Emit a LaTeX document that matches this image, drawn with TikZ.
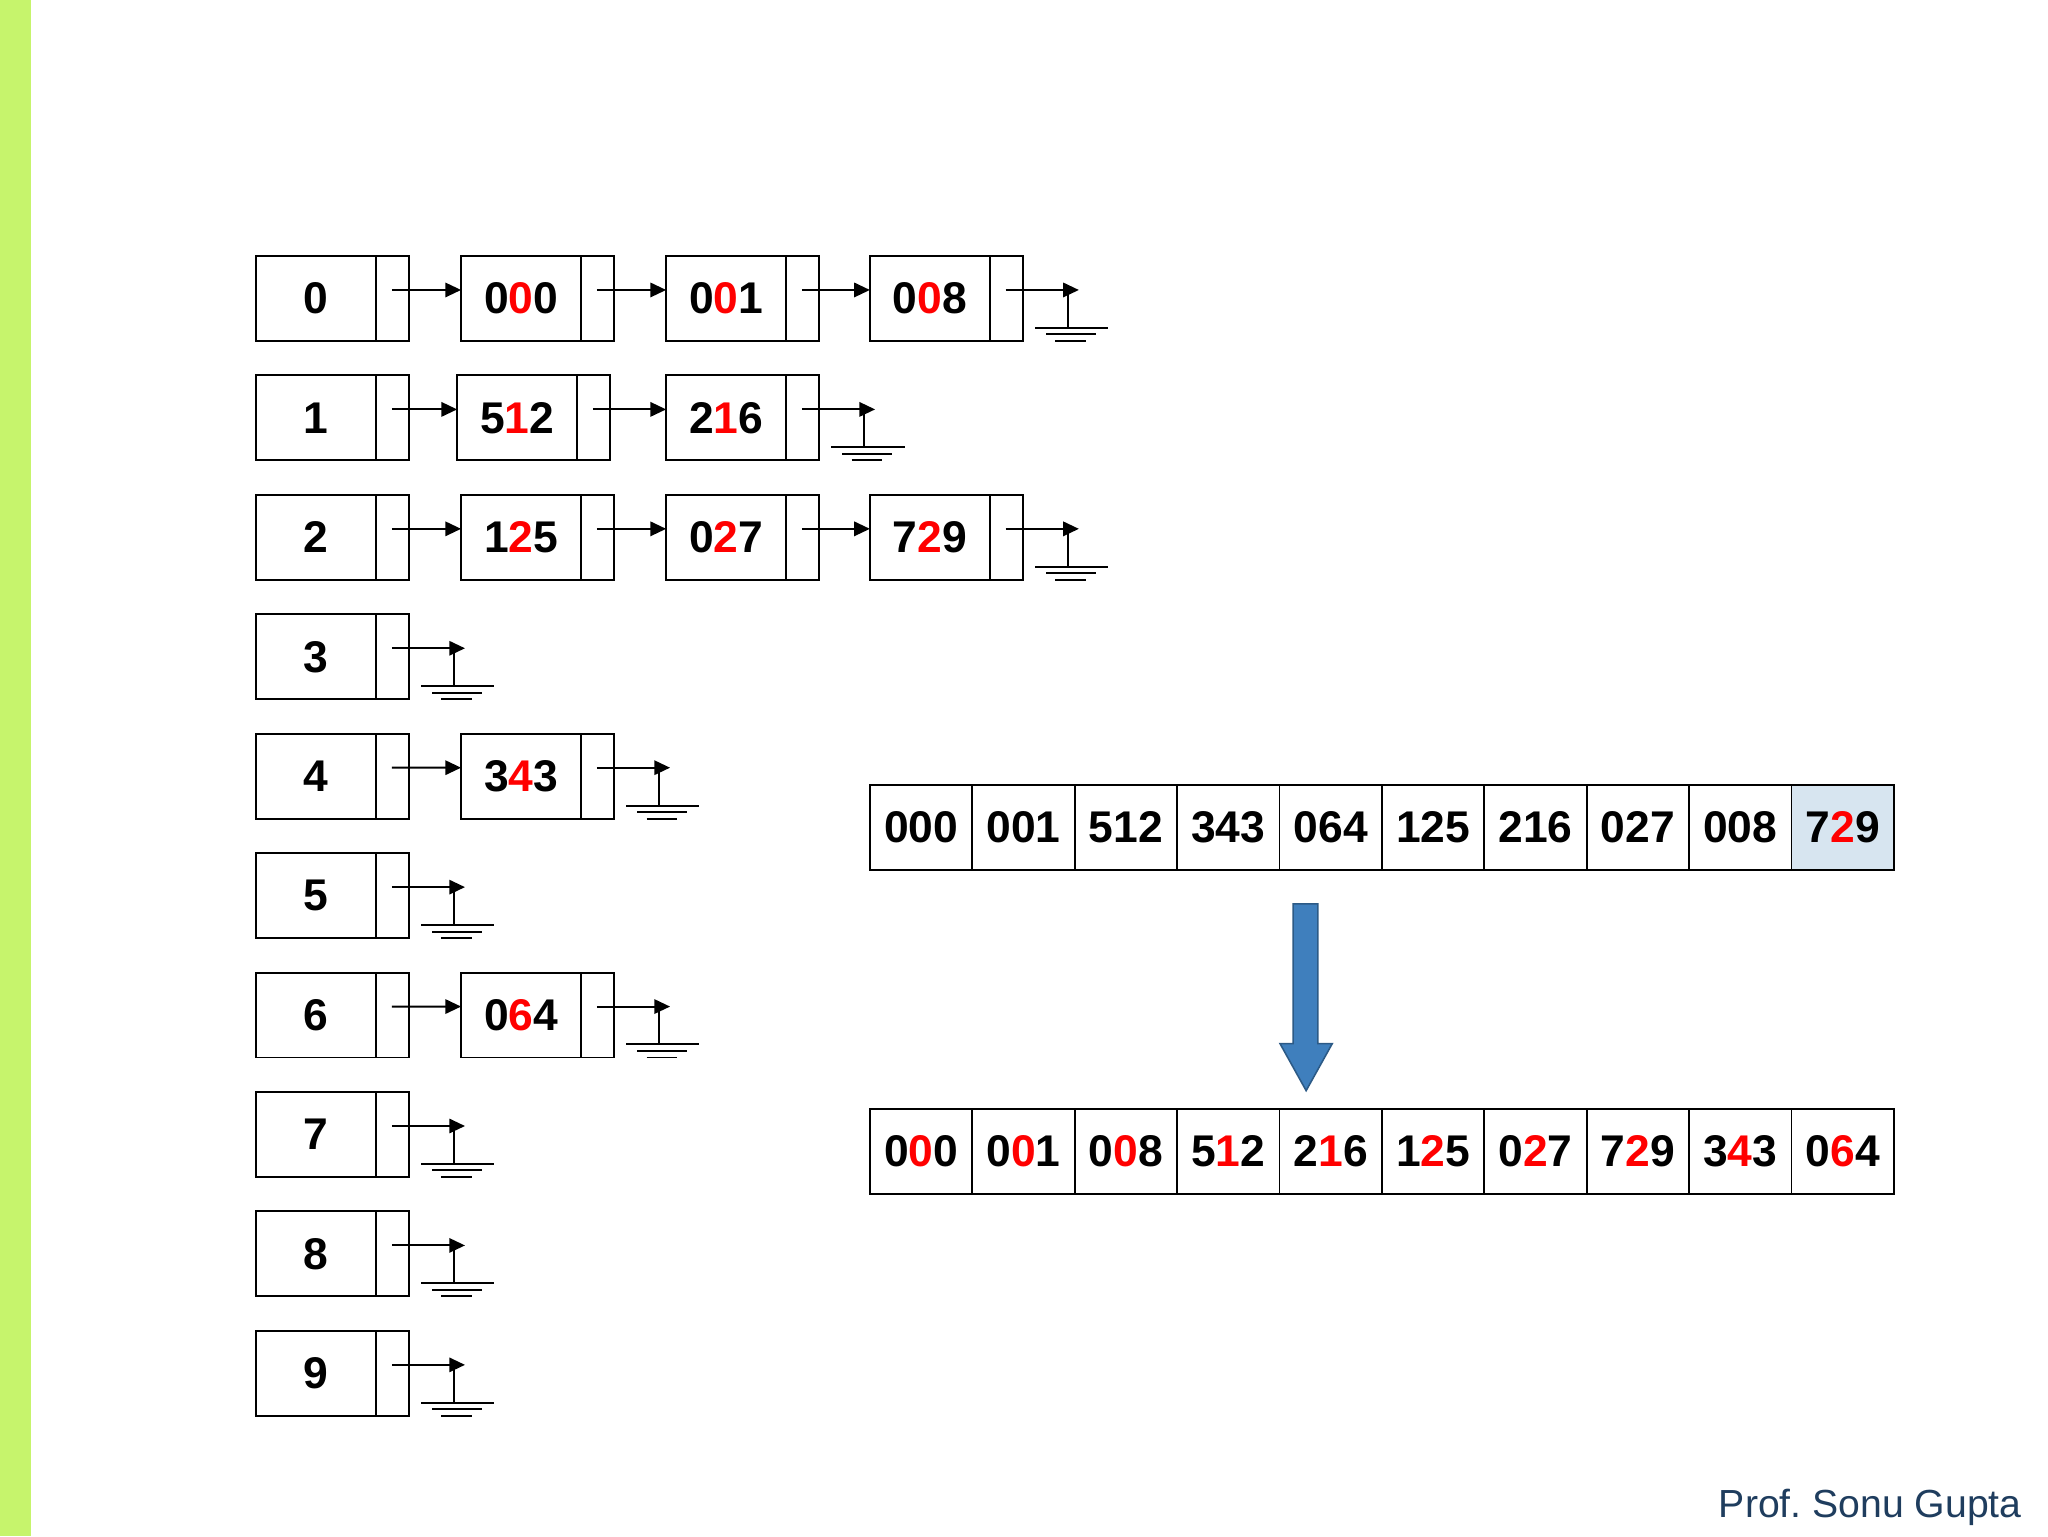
\documentclass[tikz,border=0pt]{standalone}
\usepackage{fontspec}
\setmainfont{Liberation Sans}
\usetikzlibrary{arrows.meta,calc}
\definecolor{barGreen}{HTML}{C6F46C}
\definecolor{cellBlue}{HTML}{D7E5F0}
\definecolor{arrowBlue}{HTML}{3F7FBD}
\definecolor{arrowEdge}{HTML}{2C5A86}
\definecolor{profBlue}{HTML}{1F3D5E}
\definecolor{digRed}{HTML}{FF0000}
\newcommand\rd[1]{\textcolor{digRed}{#1}}
% list node: name, x, y, text
\newcommand\lnode[4]{%
  \node[databox] (#1) at (#2,#3) {\raisebox{-1.5pt}{#4}};
  \node[ptrbox,anchor=west] (#1p) at (#1.east) {};}
% link arrow from pointer cell of #1 to node #2
\newcommand\link[2]{%
  \draw[ptr] ([xshift=-0.5pt,yshift=6.5pt]#1p.center) -- ([yshift=6.5pt]#2.west);}
% ground (null) after pointer cell of #1
\newcommand\gnd[1]{%
  \coordinate (#1g) at ([xshift=43pt,yshift=6.5pt]#1p.east);
  \draw[ptr] ([xshift=-0.5pt,yshift=6.5pt]#1p.center) -- (#1g);
  \draw[gline] ([xshift=34.6pt,yshift=6.5pt]#1p.east) -- ([xshift=34.6pt,yshift=-22.5pt]#1p.east);
  \draw[gline] ([xshift=9.5pt,yshift=-22.5pt]#1p.east) -- ([xshift=65.5pt,yshift=-22.5pt]#1p.east);
  \draw[gline] ([xshift=18pt,yshift=-27.5pt]#1p.east) -- ([xshift=56pt,yshift=-27.5pt]#1p.east);
  \draw[gline] ([xshift=25pt,yshift=-32.5pt]#1p.east) -- ([xshift=48.5pt,yshift=-32.5pt]#1p.east);}
\begin{document}
\begin{tikzpicture}[x=1pt,y=-1pt,
  databox/.style={draw,line width=1.5pt,minimum width=92pt,minimum height=65pt,
    inner sep=0pt,outer sep=0pt,font=\fontsize{34}{40}\selectfont\bfseries},
  ptrbox/.style={draw,line width=1.5pt,minimum width=25pt,minimum height=65pt,
    inner sep=0pt,outer sep=0pt},
  ptr/.style={line width=1.5pt,-{Triangle[length=12pt,width=11pt]}},
  gline/.style={line width=1.5pt},
  cell/.style={draw,line width=1.3pt,minimum width=78.4pt,minimum height=65pt,
    inner sep=0pt,outer sep=0pt,font=\fontsize{34}{40}\selectfont\bfseries}]
\useasboundingbox (0,0) rectangle (1568,1176);
\fill[barGreen] (0,0) rectangle (23.5,1176);

% index column
\foreach \k in {0,...,9}{
  \lnode{i\k}{242}{228.5+91.44*\k}{\k}
}
% row 0
\lnode{r0a}{399}{228.5}{0\rd{0}0}
\lnode{r0b}{556}{228.5}{0\rd{0}1}
\lnode{r0c}{712}{228.5}{0\rd{0}8}
\link{i0}{r0a}\link{r0a}{r0b}\link{r0b}{r0c}\gnd{r0c}
% row 1
\lnode{r1a}{396}{319.94}{5\rd{1}2}
\lnode{r1b}{556}{319.94}{2\rd{1}6}
\link{i1}{r1a}\link{r1a}{r1b}\gnd{r1b}
% row 2
\lnode{r2a}{399}{411.38}{1\rd{2}5}
\lnode{r2b}{556}{411.38}{0\rd{2}7}
\lnode{r2c}{712}{411.38}{7\rd{2}9}
\link{i2}{r2a}\link{r2a}{r2b}\link{r2b}{r2c}\gnd{r2c}
% row 3
\gnd{i3}
% row 4
\lnode{r4a}{399}{594.26}{3\rd{4}3}
\link{i4}{r4a}\gnd{r4a}
% row 5
\gnd{i5}
% row 6
\lnode{r6a}{399}{777.14}{0\rd{6}4}
\link{i6}{r6a}\gnd{r6a}
% rows 7-9
\gnd{i7}\gnd{i8}\gnd{i9}

% arrays
\foreach \t [count=\i from 0] in {000,001,512,343,064,125,216,027,008}{
  \node[cell] (a\i) at (705.2+78.4*\i,633.5) {\raisebox{-1.5pt}{\t}};
}
\node[cell,fill=cellBlue] (a9) at (705.2+78.4*9,633.5) {\raisebox{-1.5pt}{7\rd{2}9}};
\foreach \t [count=\i from 0] in {{0\rd{0}0},{0\rd{0}1},{0\rd{0}8},{5\rd{1}2},{2\rd{1}6},{1\rd{2}5},{0\rd{2}7},{7\rd{2}9},{3\rd{4}3},{0\rd{6}4}}{
  \node[cell] (b\i) at (705.2+78.4*\i,881.5) {\raisebox{-1.5pt}{\t}};
}

% big arrow
\draw[fill=arrowBlue,draw=arrowEdge,line width=1.2pt]
  (990,692) -- (1009,692) -- (1009,799) -- (1020,799) -- (1000,835)
  -- (980,799) -- (990,799) -- cycle;

\node[anchor=base east,inner sep=0pt,text=profBlue,font=\fontsize{30}{36}\selectfont]
  (credit) at (1548,1162) {Prof.\ Sonu Gupta};
\end{tikzpicture}
\end{document}
